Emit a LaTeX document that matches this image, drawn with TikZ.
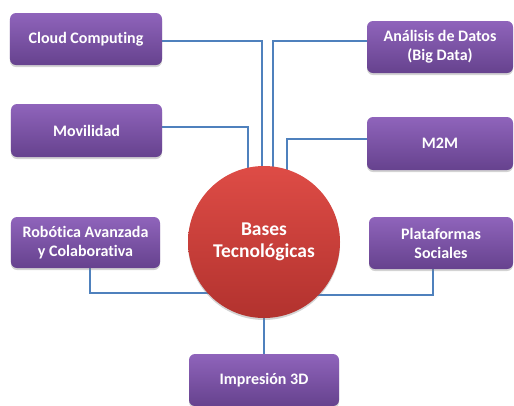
\documentclass[tikz,border=0pt]{standalone}
\usepackage{fontspec}
\setmainfont{Carlito}[Ligatures=NoCommon]
\usetikzlibrary{shadows,backgrounds}
\definecolor{boxtop}{RGB}{143,100,187}
\definecolor{boxbot}{RGB}{102,66,142}
\definecolor{circtop}{RGB}{222,76,70}
\definecolor{circbot}{RGB}{178,50,46}
\definecolor{link}{RGB}{79,129,189}
\tikzset{
  topic/.style={rectangle, rounded corners=6bp, draw=none,
    top color=boxtop, bottom color=boxbot, text=white,
    font=\bfseries\fontsize{16bp}{19bp}\selectfont, align=center,
    minimum width=150bp, minimum height=52bp, inner sep=2bp,
    drop shadow={shadow xshift=0bp, shadow yshift=-2bp, opacity=0.35}},
  hub/.style={circle, draw=none, top color=circtop, bottom color=circbot,
    text=white, font=\bfseries\fontsize{19.5bp}{21.5bp}\selectfont, align=center,
    minimum size=152bp, inner sep=0pt,
    drop shadow={shadow xshift=0bp, shadow yshift=-2bp, opacity=0.35}},
  wire/.style={draw=link, line width=1.6bp}
}
\begin{document}
\begin{tikzpicture}[x=1bp, y=-1bp]
  \useasboundingbox (0,0) rectangle (514,405);

  % central hub
  \node[hub] (core) at (264,242) {Bases\\Tecnológicas};

  % surrounding topics
  \node[topic, minimum width=152bp] (cloud) at (86,39) {Cloud Computing};
  \node[topic, minimum width=146bp] (datos) at (440,47) {Análisis de Datos\\(Big Data)};
  \node[topic, minimum width=151bp, minimum height=53bp] (movil) at (86.5,130.5) {Movilidad};
  \node[topic, minimum width=146bp, minimum height=53bp] (m2m) at (440,143.5) {M2M};
  \node[topic, minimum width=149bp, minimum height=51bp] (robot) at (85.5,242.5) {Robótica Avanzada\\y Colaborativa};
  \node[topic, minimum width=144bp] (social) at (441,243) {Plataformas\\Sociales};
  \node[topic] (print) at (264,380) {Impresión 3D};

  % bend points of the connectors
  \coordinate (kc) at (262,41);
  \coordinate (kd) at (273,41);
  \coordinate (km) at (248,127);
  \coordinate (kn) at (287,139);
  \coordinate (kr) at (90,293);
  \coordinate (ks) at (433,295);

  \begin{pgfonlayer}{background}
    \draw[wire] (cloud.east |- kc) -- (kc) -- (kc |- core.center);
    \draw[wire] (datos.west |- kd) -- (kd) -- (kd |- core.center);
    \draw[wire] (movil.east |- km) -- (km) -- (km |- core.center);
    \draw[wire] (m2m.west |- kn) -- (kn) -- (kn |- core.center);
    \draw[wire] (robot.south -| kr) -- (kr) -- (kr -| core.center);
    \draw[wire] (social.south -| ks) -- (ks) -- (ks -| core.center);
    \draw[wire] (core.center) -- (print.north);
  \end{pgfonlayer}
\end{tikzpicture}
\end{document}
